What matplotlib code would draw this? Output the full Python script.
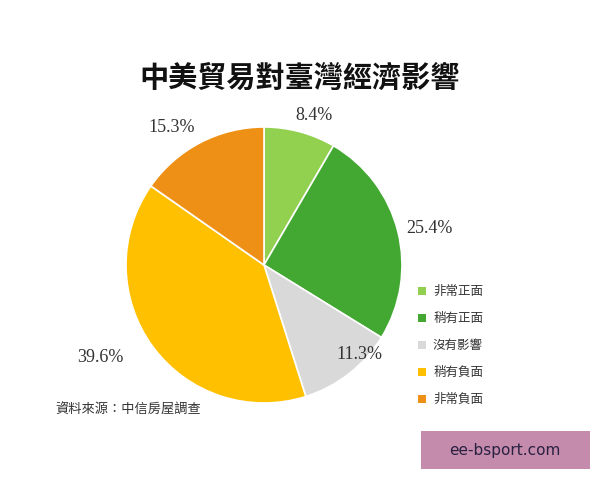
import numpy as np
import matplotlib.pyplot as plt
from matplotlib.patches import Rectangle

plt.rcParams['font.family'] = ['Noto Sans CJK TC', 'DejaVu Sans']

# Data
categories = ["非常正面", "稍有正面", "沒有影響", "稍有負面", "非常負面"]
shares = [8.4, 25.4, 11.3, 39.6, 15.3]
colors = ["#92D050", "#43A832", "#D9D9D9", "#FFC000", "#EE9015"]
# where each percent label sits, as a multiple of the radius
label_dist = [1.14, 1.23, 0.95, 1.36, 1.2]
label_shift = [-3.5, -1.5, 9, -7, 6.5]  # degrees

fig = plt.figure(figsize=(6, 4.8), dpi=100)
fig.patch.set_facecolor("white")

# pie axes: centre (264, 265) px, radius ~138 px
r_px = 138
ax = fig.add_axes([(264 - r_px) / 600, (480 - 265 - r_px) / 480,
                   2 * r_px / 600, 2 * r_px / 480])
wedges, _ = ax.pie(shares, colors=colors, startangle=90, counterclock=False,
                   wedgeprops=dict(edgecolor="white", linewidth=1.2))
ax.set_aspect("auto")
ax.set_xlim(-1, 1)
ax.set_ylim(-1, 1)

for w, v, d, s in zip(wedges, shares, label_dist, label_shift):
    ang = np.deg2rad((w.theta1 + w.theta2) / 2 + s)
    ax.text(d * np.cos(ang), d * np.sin(ang), f"{v}%", ha="center", va="center",
            fontsize=13, family="Liberation Serif", color="#333333")

# title
fig.text(0.5, 1 - 78 / 480, "中美貿易對臺灣經濟影響", ha="center", va="center",
         fontsize=21, fontweight="bold", color="#111111")

# legend
leg_y = [291, 318, 345, 372, 399]
for lab, c, y in zip(categories, colors, leg_y):
    fig.patches.append(Rectangle((418 / 600, 1 - (y + 4) / 480), 8 / 600, 8 / 480,
                                 transform=fig.transFigure, facecolor=c,
                                 edgecolor="none"))
    fig.text(433 / 600, 1 - y / 480, lab, ha="left", va="center",
             fontsize=9, color="#333333")

# source
fig.text(55 / 600, 1 - 410 / 480, "資料來源：中信房屋調查", ha="left",
         va="center", fontsize=9.5, color="#333333")

# watermark box
fig.patches.append(Rectangle((421 / 600, 1 - 469 / 480), 169 / 600, 38 / 480,
                             transform=fig.transFigure, facecolor="#C48BAD",
                             edgecolor="none"))
fig.text(505 / 600, 1 - 450 / 480, "ee-bsport.com", ha="center", va="center",
         fontsize=11, color="#2A2040", family="DejaVu Sans")

fig.savefig("out.png", dpi=100)
